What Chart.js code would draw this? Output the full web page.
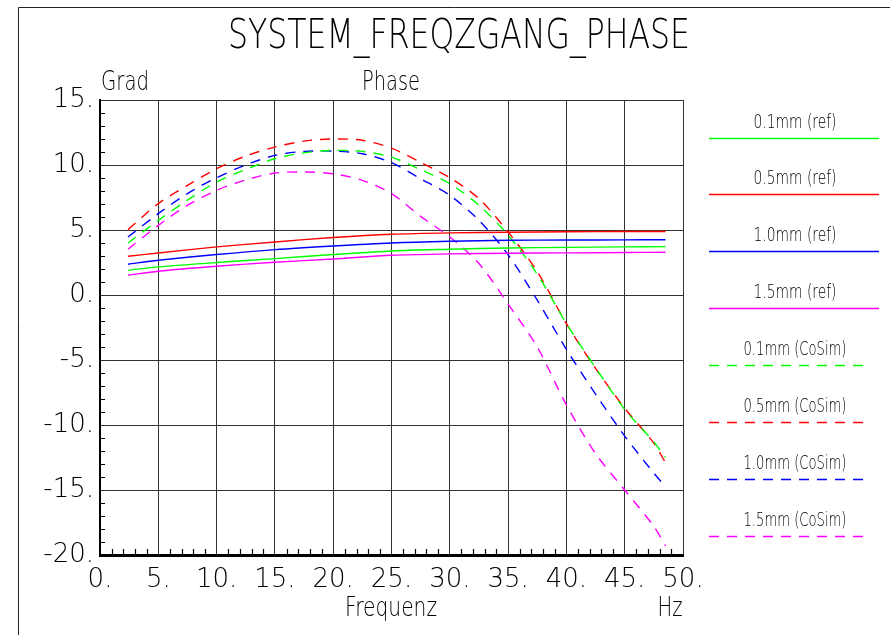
<!DOCTYPE html>
<html lang="de">
<head>
    <meta charset="UTF-8">
    <title>SYSTEM_FREQZGANG_PHASE</title>
    <script src="https://cdn.jsdelivr.net/npm/chart.js"></script>
    <style>
        html, body {
            margin: 0;
            background: #fff;
        }
        #wrap {
            width: 890px;
            height: 635px;
        }
    </style>
</head>
<body>
    <div id="wrap"><canvas id="phaseChart" width="890" height="635"></canvas></div>

    <script>
        // Frequenzen der Messpunkte (Hz)
        const freqRef = [2.4, 5, 10, 15, 20, 25, 30, 35, 40, 45, 48.5];
        const freqCoSim = [2.4, 5, 7.5, 10, 12.5, 15, 17.5, 20, 22.5, 25, 27.5, 30, 32.5, 35, 37.5, 40, 42.5, 45, 47.5, 48.5];

        // Phase in Grad - Referenz
        const ref01 = [1.91, 2.16, 2.50, 2.80, 3.11, 3.39, 3.52, 3.62, 3.66, 3.70, 3.72];
        const ref05 = [2.98, 3.23, 3.70, 4.08, 4.42, 4.67, 4.78, 4.83, 4.86, 4.88, 4.88];
        const ref10 = [2.37, 2.67, 3.11, 3.49, 3.77, 4.00, 4.13, 4.21, 4.23, 4.24, 4.25];
        const ref15 = [1.52, 1.83, 2.21, 2.52, 2.77, 3.06, 3.16, 3.21, 3.24, 3.27, 3.29];

        // Phase in Grad - CoSim
        const cosim01 = [4.0, 5.74, 7.3, 8.69, 9.66, 10.48, 10.94, 11.12, 11.05, 10.6, 9.64, 8.56, 6.9, 4.6, 1.6, -2.2, -5.6, -8.8, -11.3, -12.5];
        const cosim05 = [5.03, 7.03, 8.43, 9.71, 10.69, 11.38, 11.84, 12.0, 11.9, 11.3, 10.2, 9.02, 7.41, 4.85, 1.8, -2.2, -5.65, -8.7, -11.4, -12.9];
        const cosim10 = [4.46, 6.26, 7.8, 9.02, 10.0, 10.74, 11.05, 11.07, 10.87, 10.18, 8.94, 7.67, 5.74, 3.1, -0.4, -4.19, -7.62, -10.85, -13.7, -14.74];
        const cosim15 = [3.52, 5.36, 6.9, 8.05, 8.85, 9.38, 9.46, 9.33, 8.82, 7.8, 6.05, 4.46, 2.42, -0.7, -4.0, -8.46, -12.2, -15.0, -17.8, -19.3];

        const seriesLabels = ['0.1mm (ref)', '0.5mm (ref)', '1.0mm (ref)', '1.5mm (ref)',
                              '0.1mm (CoSim)', '0.5mm (CoSim)', '1.0mm (CoSim)', '1.5mm (CoSim)'];

        const xTicks = [0, 5, 10, 15, 20, 25, 30, 35, 40, 45, 50];
        const yTicks = [-20, -15, -10, -5, 0, 5, 10, 15];

        const FONT = "'DejaVu Sans', sans-serif";
        const colors = ['#00ff00', '#ff0000', '#0000ff', '#ff00ff'];
        const DASH = [10, 8];

        function pts(xs, ys) {
            return xs.map((x, i) => ({ x: x, y: ys[i] }));
        }

        function line(label, xs, ys, color, dashed) {
            return {
                label: label,
                data: pts(xs, ys),
                borderColor: color,
                backgroundColor: color,
                borderWidth: 1.4,
                borderDash: dashed ? DASH : [],
                pointRadius: 0,
                tension: 0.3,
                fill: false
            };
        }

        const datasets = [
            line(seriesLabels[0], freqRef, ref01, colors[0], false),
            line(seriesLabels[1], freqRef, ref05, colors[1], false),
            line(seriesLabels[2], freqRef, ref10, colors[2], false),
            line(seriesLabels[3], freqRef, ref15, colors[3], false),
            line(seriesLabels[4], freqCoSim, cosim01, colors[0], true),
            line(seriesLabels[5], freqCoSim, cosim05, colors[1], true),
            line(seriesLabels[6], freqCoSim, cosim10, colors[2], true),
            line(seriesLabels[7], freqCoSim, cosim15, colors[3], true)
        ];

        // Rahmen, Titel, Achsbeschriftungen, Nebenteilung und Legende
        const decor = {
            id: 'decor',
            afterDraw(chart) {
                const ctx = chart.ctx;
                const a = chart.chartArea;
                const xs = chart.scales.x;
                const ys = chart.scales.y;
                ctx.save();

                // Rahmen oben / links
                ctx.strokeStyle = '#222';
                ctx.lineWidth = 1;
                ctx.beginPath();
                ctx.moveTo(18.5, 635);
                ctx.lineTo(18.5, 7.5);
                ctx.lineTo(890, 7.5);
                ctx.stroke();

                // Nebenteilung
                ctx.strokeStyle = '#000';
                ctx.lineWidth = 1.2;
                ctx.beginPath();
                for (let v = -20; v <= 15; v++) {
                    if (v % 5 === 0) continue;
                    const py = Math.round(ys.getPixelForValue(v)) + 0.5;
                    ctx.moveTo(a.left, py);
                    ctx.lineTo(a.left + 5, py);
                }
                for (let v = 0; v <= 50; v++) {
                    if (v % 5 === 0) continue;
                    const px = Math.round(xs.getPixelForValue(v)) + 0.5;
                    ctx.moveTo(px, a.bottom);
                    ctx.lineTo(px, a.bottom - 6);
                }
                ctx.stroke();

                // Texte (schmal gestaucht)
                ctx.fillStyle = '#000';
                ctx.textBaseline = 'alphabetic';
                ctx.textAlign = 'center';
                ctx.font = '200 41px ' + FONT;
                ctx.fillText('SYSTEM_FREQZGANG_PHASE', 459, 48, 462);

                ctx.font = '200 27px ' + FONT;
                ctx.textAlign = 'left';
                ctx.fillText('Grad', 101, 90, 48);
                ctx.fillText('Phase', 362, 90, 58);
                ctx.textAlign = 'center';
                ctx.fillText('Frequenz', 391, 616, 92);
                ctx.fillText('Hz', 670, 616, 25);

                // Legende
                ctx.font = '200 20px ' + FONT;
                chart.data.datasets.forEach((ds, i) => {
                    const ly = 137.5 + i * 56.9;
                    const w = ds.borderDash.length ? 103 : 83;
                    ctx.fillStyle = '#000';
                    ctx.fillText(ds.label, 795, ly - 10, w);
                    ctx.strokeStyle = ds.borderColor;
                    ctx.lineWidth = 1.4;
                    ctx.setLineDash(ds.borderDash);
                    ctx.beginPath();
                    ctx.moveTo(709, Math.round(ly) + 0.5);
                    ctx.lineTo(ds.borderDash.length ? 870 : 879, Math.round(ly) + 0.5);
                    ctx.stroke();
                    ctx.setLineDash([]);
                });

                ctx.restore();
            }
        };

        const tickFont = { family: FONT, size: 26, weight: 200 };

        new Chart(document.getElementById('phaseChart'), {
            type: 'line',
            data: { datasets: datasets },
            options: {
                responsive: false,
                animation: false,
                layout: { padding: { left: 0, top: 100, right: 207, bottom: 0 } },
                plugins: {
                    legend: { display: false },
                    title: { display: false },
                    tooltip: { enabled: false }
                },
                scales: {
                    x: {
                        type: 'linear',
                        min: 0,
                        max: 50,
                        afterFit: s => { s.height = 80; },
                        afterBuildTicks: s => { s.ticks = xTicks.map(v => ({ value: v })); },
                        grid: { color: '#333', lineWidth: 1, drawTicks: false },
                        border: { color: '#000', width: 3 },
                        ticks: {
                            padding: 10,
                            color: '#000',
                            font: tickFont,
                            maxRotation: 0,
                            callback: v => v + '.'
                        }
                    },
                    y: {
                        type: 'linear',
                        min: -20,
                        max: 15,
                        afterFit: s => { s.width = 100; },
                        afterBuildTicks: s => { s.ticks = yTicks.map(v => ({ value: v })); },
                        grid: { color: '#333', lineWidth: 1, drawTicks: false },
                        border: { color: '#000', width: 2 },
                        ticks: {
                            padding: 6,
                            color: '#000',
                            font: tickFont,
                            callback: v => v + '.'
                        }
                    }
                }
            },
            plugins: [decor]
        });
    </script>
</body>
</html>
